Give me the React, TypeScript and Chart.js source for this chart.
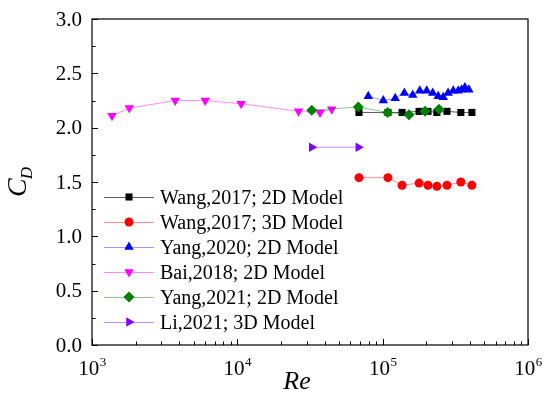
import React, { useEffect, useRef } from 'react';
import { Chart, registerables } from 'chart.js';
import { drawPoint } from 'chart.js/helpers';

Chart.register(...registerables);

// ---- data ----
const wang2dRe = [68700, 108700, 136000, 178000, 205000, 236000, 277000, 345000, 411000];
const wang2dCd = [2.14, 2.14, 2.14, 2.15, 2.15, 2.14, 2.15, 2.14, 2.14];
const wang3dRe = [68700, 108700, 136000, 178000, 205000, 236000, 277000, 345000, 411000];
const wang3dCd = [1.54, 1.54, 1.47, 1.49, 1.47, 1.46, 1.47, 1.5, 1.47];
const yang2020Re = [79600, 101000, 122000, 141000, 161000, 180000, 201000, 221000, 241000, 261000, 282000, 306000, 331000, 349000, 368000, 392000];
const yang2020Cd = [2.29, 2.25, 2.27, 2.32, 2.3, 2.34, 2.34, 2.32, 2.29, 2.28, 2.32, 2.34, 2.34, 2.35, 2.37, 2.35];
const bai2018Re = [1372, 1805, 3736, 6010, 10620, 26380, 37070, 44600];
const bai2018Cd = [2.11, 2.18, 2.25, 2.25, 2.22, 2.15, 2.14, 2.17];
const yang2021Re = [32500, 68000, 108200, 151700, 195500, 244000];
const yang2021Cd = [2.16, 2.19, 2.14, 2.12, 2.15, 2.17];
const li2021Re = [32500, 68000];
const li2021Cd = [1.82, 1.82];

const seriesLabels = [
  'Wang,2017; 2D Model',
  'Wang,2017; 3D Model',
  'Yang,2020; 2D Model',
  'Bai,2018; 2D Model',
  'Yang,2021; 2D Model',
  'Li,2021; 3D Model',
];

const yMajorTicks = [0, 0.5, 1.0, 1.5, 2.0, 2.5, 3.0];
const yTickLabels = ['0.0', '0.5', '1.0', '1.5', '2.0', '2.5', '3.0'];
const yMinorTicks = [0.25, 0.75, 1.25, 1.75, 2.25, 2.75];
const xMajorTicks = [1e3, 1e4, 1e5, 1e6];
const xTickExponents = ['3', '4', '5', '6'];
const xMinorMultipliers = [2, 3, 4, 5, 6, 7, 8, 9];

const SERIF = '"Liberation Serif", "Times New Roman", serif';

const styles = [
  { color: '#000000', line: 'rgba(0,0,0,0.65)', pointStyle: 'rect', rotation: 0, radius: 5 },
  { color: '#ff0000', line: 'rgba(255,0,0,0.45)', pointStyle: 'circle', rotation: 0, radius: 4.5 },
  { color: '#0000ff', line: 'rgba(0,0,255,0.4)', pointStyle: 'triangle', rotation: 0, radius: 5.5 },
  { color: '#ff00ff', line: 'rgba(255,0,255,0.45)', pointStyle: 'triangle', rotation: 180, radius: 5.5 },
  { color: '#008000', line: 'rgba(0,128,0,0.45)', pointStyle: 'rectRot', rotation: 0, radius: 5.5 },
  { color: '#8000ff', line: 'rgba(128,0,255,0.45)', pointStyle: 'triangle', rotation: 90, radius: 5.5 },
];

const seriesRe = [wang2dRe, wang3dRe, yang2020Re, bai2018Re, yang2021Re, li2021Re];
const seriesCd = [wang2dCd, wang3dCd, yang2020Cd, bai2018Cd, yang2021Cd, li2021Cd];

const overlay = {
  id: 'overlay',
  afterDraw(chart: any) {
    const ctx: CanvasRenderingContext2D = chart.ctx;
    const area = chart.chartArea;
    const xs = chart.scales.x;
    const ys = chart.scales.y;
    ctx.save();
    ctx.strokeStyle = '#000';
    ctx.fillStyle = '#000';
    ctx.lineWidth = 1.2;
    // frame
    ctx.strokeRect(area.left, area.top, area.right - area.left, area.bottom - area.top);
    // y ticks
    ctx.lineWidth = 1;
    ctx.beginPath();
    yMajorTicks.forEach((v) => {
      const y = Math.round(ys.getPixelForValue(v)) + 0.5;
      ctx.moveTo(area.left, y);
      ctx.lineTo(area.left + 6, y);
    });
    yMinorTicks.forEach((v) => {
      const y = Math.round(ys.getPixelForValue(v)) + 0.5;
      ctx.moveTo(area.left, y);
      ctx.lineTo(area.left + 3.5, y);
    });
    // x ticks
    xMajorTicks.forEach((v, i) => {
      const x = Math.round(xs.getPixelForValue(v)) + 0.5;
      ctx.moveTo(x, area.bottom);
      ctx.lineTo(x, area.bottom - 6);
      if (i < xMajorTicks.length - 1) {
        xMinorMultipliers.forEach((m) => {
          const xm = Math.round(xs.getPixelForValue(v * m)) + 0.5;
          ctx.moveTo(xm, area.bottom);
          ctx.lineTo(xm, area.bottom - 3.5);
        });
      }
    });
    ctx.stroke();

    // y tick labels
    ctx.font = `21px ${SERIF}`;
    ctx.textAlign = 'right';
    ctx.textBaseline = 'middle';
    yMajorTicks.forEach((v, i) => {
      ctx.fillText(yTickLabels[i], area.left - 10, ys.getPixelForValue(v) + 1);
    });

    // x tick labels 10^n
    ctx.textAlign = 'left';
    ctx.textBaseline = 'alphabetic';
    xMajorTicks.forEach((v, i) => {
      const x = xs.getPixelForValue(v);
      ctx.font = `21px ${SERIF}`;
      const w10 = ctx.measureText('10').width;
      ctx.font = `13px ${SERIF}`;
      const ws = ctx.measureText(xTickExponents[i]).width;
      const start = x - (w10 + ws) / 2;
      ctx.font = `21px ${SERIF}`;
      ctx.fillText('10', start, area.bottom + 30);
      ctx.font = `13px ${SERIF}`;
      ctx.fillText(xTickExponents[i], start + w10 + 0.5, area.bottom + 21);
    });

    // x title
    ctx.font = `italic 26px ${SERIF}`;
    ctx.textAlign = 'center';
    ctx.fillText('Re', 297, 389);

    // y title C_D
    ctx.save();
    ctx.translate(26, 197);
    ctx.rotate(-Math.PI / 2);
    ctx.textAlign = 'left';
    ctx.font = `italic 28px ${SERIF}`;
    ctx.fillText('C', 0, 0);
    const cw = ctx.measureText('C').width;
    ctx.font = `italic 17px ${SERIF}`;
    ctx.fillText('D', cw - 1, 6);
    ctx.restore();

    // legend
    seriesLabels.forEach((label, i) => {
      const st = styles[i];
      const y = 197 + 25 * i;
      ctx.strokeStyle = st.line;
      ctx.lineWidth = 1;
      ctx.beginPath();
      ctx.moveTo(104, y + 0.5);
      ctx.lineTo(154, y + 0.5);
      ctx.stroke();
      ctx.fillStyle = st.color;
      ctx.strokeStyle = st.color;
      drawPoint(ctx, { pointStyle: st.pointStyle as any, rotation: st.rotation, radius: st.radius, borderWidth: 0 } as any, 129, y);
      ctx.fillStyle = '#000';
      ctx.font = `20px ${SERIF}`;
      ctx.textAlign = 'left';
      ctx.textBaseline = 'alphabetic';
      ctx.fillText(label, 160, y + 6.5);
    });
    ctx.restore();
  },
};

export default function App() {
  const ref = useRef<HTMLCanvasElement>(null);
  useEffect(() => {
    document.body.style.margin = '0';
    const datasets = seriesLabels.map((label, i) => ({
      label,
      data: seriesRe[i].map((re, j) => ({ x: re, y: seriesCd[i][j] })),
      showLine: true,
      borderColor: styles[i].line,
      borderWidth: 1,
      backgroundColor: styles[i].color,
      pointBackgroundColor: styles[i].color,
      pointBorderColor: styles[i].color,
      pointBorderWidth: 0,
      pointStyle: styles[i].pointStyle as any,
      rotation: styles[i].rotation,
      pointRadius: styles[i].radius,
      order: 10 - i,
    }));
    const chart = new Chart(ref.current!, {
      type: 'scatter',
      data: { datasets },
      options: {
        animation: false,
        responsive: false,
        devicePixelRatio: 1,
        layout: { padding: { left: 92, right: 22, top: 19, bottom: 53 } },
        plugins: { legend: { display: false }, tooltip: { enabled: false } },
        scales: {
          x: {
            type: 'logarithmic',
            min: 1000,
            max: 1000000,
            grid: { display: false, drawTicks: false },
            border: { display: false },
            ticks: { display: false },
          },
          y: {
            type: 'linear',
            min: 0,
            max: 3,
            grid: { display: false, drawTicks: false },
            border: { display: false },
            ticks: { display: false },
          },
        },
      } as any,
      plugins: [overlay],
    });
    return () => chart.destroy();
  }, []);
  return (
    <div style={{ width: 550, height: 398 }}>
      <canvas ref={ref} width={550} height={398} style={{ display: 'block' }} />
    </div>
  );
}
